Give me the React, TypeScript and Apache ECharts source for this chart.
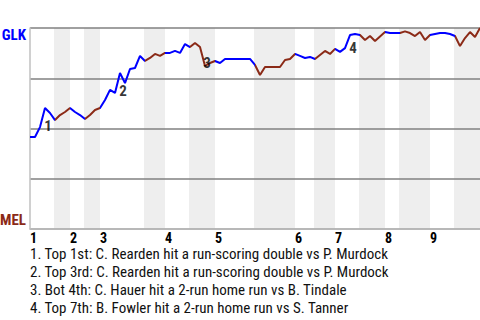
import React, { useEffect, useRef } from "react";
import * as echarts from "echarts";

// GLK win probability (%) after each plate appearance (index 0..90)
const winProb: number[] = [
  45.8, 45.8, 50.7, 60.2, 57.7, 54.2, 56.7, 58.2, 60.2, 58.2,
  56.7, 54.7, 56.7, 59.2, 60.2, 64.2, 69.2, 67.7, 77.6, 72.6,
  79.6, 80.1, 86.1, 83.6, 85.1, 87.1, 86.1, 87.6, 87.6, 88.6,
  87.6, 92.0, 90.5, 92.5, 90.5, 81.1, 82.6, 83.6, 82.6, 84.6,
  84.6, 84.6, 84.6, 84.6, 84.6, 81.6, 76.6, 80.6, 80.6, 80.6,
  80.6, 84.1, 84.6, 87.1, 86.1, 85.1, 85.6, 84.6, 86.6, 88.6,
  87.1, 89.6, 88.1, 90.0, 96.5, 97.0, 96.5, 94.0, 96.0, 93.5,
  95.8, 98.0, 97.5, 97.5, 97.5, 98.3, 97.5, 96.0, 98.0, 94.0,
  96.5, 97.0, 97.5, 97.5, 97.0, 96.0, 91.0, 95.0, 98.0, 95.5,
  100,
];

// Start index of each half inning (top 1, bottom 1, top 2, ...), plus end
const halfStarts: number[] = [0, 5, 8, 11, 14, 23, 27, 32, 37, 45, 53, 57, 61, 66, 71, 74, 80, 85, 90];
const inningLabels: string[] = ["1", "2", "3", "4", "5", "6", "7", "8", "9"];

const eventIdx: number[] = [3, 18, 35, 64];
const eventNums: string[] = ["1", "2", "3", "4"];
const eventOffsets: number[][] = [[3, 18], [3, 18], [2, -3], [3, 13]];

const notes: string[] = [
  "1. Top 1st: C. Rearden hit a run-scoring double vs P. Murdock",
  "2. Top 3rd: C. Rearden hit a run-scoring double vs P. Murdock",
  "3. Bot 4th: C. Hauer hit a 2-run home run vs B. Tindale",
  "4. Top 7th: B. Fowler hit a 2-run home run vs S. Tanner",
];

const awayName = "GLK";
const homeName = "MEL";

const BLUE = "#0000ff";
const RED = "#8b2a17";
const COND = "'Roboto Condensed', 'Liberation Sans Narrow', 'DejaVu Sans Condensed', Roboto, sans-serif";

export default function App() {
  const ref = useRef<HTMLDivElement>(null);
  useEffect(() => {
    if (!ref.current) return;
    const chart = echarts.init(ref.current, undefined, { renderer: "svg" });
    const total = halfStarts[halfStarts.length - 1];
    const topStarts = halfStarts.filter((_, i) => i % 2 === 0 && i < halfStarts.length - 1);
    const pieces: any[] = [];
    const bands: any[] = [];
    for (let i = 0; i < halfStarts.length - 1; i++) {
      const isTop = i % 2 === 0;
      pieces.push({ gte: halfStarts[i], lt: halfStarts[i + 1] + (i === halfStarts.length - 2 ? 1 : 0), color: isTop ? BLUE : RED });
      if (!isTop) bands.push([{ xAxis: halfStarts[i] - 0.2 }, { xAxis: halfStarts[i + 1] }]);
    }
    const lineData = winProb.map((v, i) => [i, v]);
    const evData = eventIdx.map((idx, k) => ({
      value: [idx, winProb[idx]],
      label: { formatter: eventNums[k], offset: eventOffsets[k] },
    }));
    chart.setOption({
      animation: false,
      grid: { left: 30, right: 0, top: 28, height: 201 },
      xAxis: {
        type: "value",
        min: 0,
        max: total,
        z: 2,
        axisLine: { show: true, lineStyle: { color: "#c0c0c0", width: 1.5 } },
        axisTick: { show: false },
        splitLine: { show: false },
        axisLabel: {
          customValues: topStarts,
          formatter: (v: number) => inningLabels[topStarts.indexOf(v)] ?? "",
          align: "left",
          fontWeight: "bold",
          fontSize: 14,
          lineHeight: 12,
          color: "#000",
          margin: 3,
          fontFamily: COND,
        },
      },
      yAxis: {
        type: "value",
        min: 0,
        max: 100,
        interval: 25,
        z: 2,
        axisLine: { show: true, lineStyle: { color: "#c0c0c0", width: 1.5 } },
        axisTick: { show: false },
        axisLabel: { show: false },
        splitLine: { show: true, lineStyle: { color: "#808080", width: 1.5 } },
      },
      visualMap: {
        show: false,
        type: "piecewise",
        dimension: 0,
        seriesIndex: 1,
        pieces,
      },
      graphic: [
        { type: "text", right: 454, top: 27, style: { text: awayName, fill: BLUE, font: `bold 15px ${COND}` } },
        { type: "text", right: 454, top: 212, style: { text: homeName, fill: RED, font: `bold 15px ${COND}` } },
        ...notes.map((t, i) => ({
          type: "text",
          left: 30,
          top: 246 + i * 18,
          style: { text: t, fill: "#111", font: `15px ${COND}`, lineHeight: 16 },
        })),
      ],
      series: [
        {
          type: "line",
          data: [],
          z: 0,
          silent: true,
          markArea: { silent: true, z: 0, itemStyle: { color: "#eeeeee" }, data: bands },
        },
        {
          type: "line",
          data: lineData,
          z: 3,
          symbol: "none",
          lineStyle: { width: 2 },
        },
        {
          type: "scatter",
          data: evData,
          z: 4,
          symbolSize: 0,
          label: {
            show: true,
            position: "inside",
            fontWeight: "bold",
            fontSize: 15,
            color: "#000",
            fontFamily: COND,
          },
        },
      ],
    });
    return () => chart.dispose();
  }, []);
  return <div ref={ref} style={{ width: 480, height: 320, position: "absolute", left: 0, top: 0 }} />;
}
